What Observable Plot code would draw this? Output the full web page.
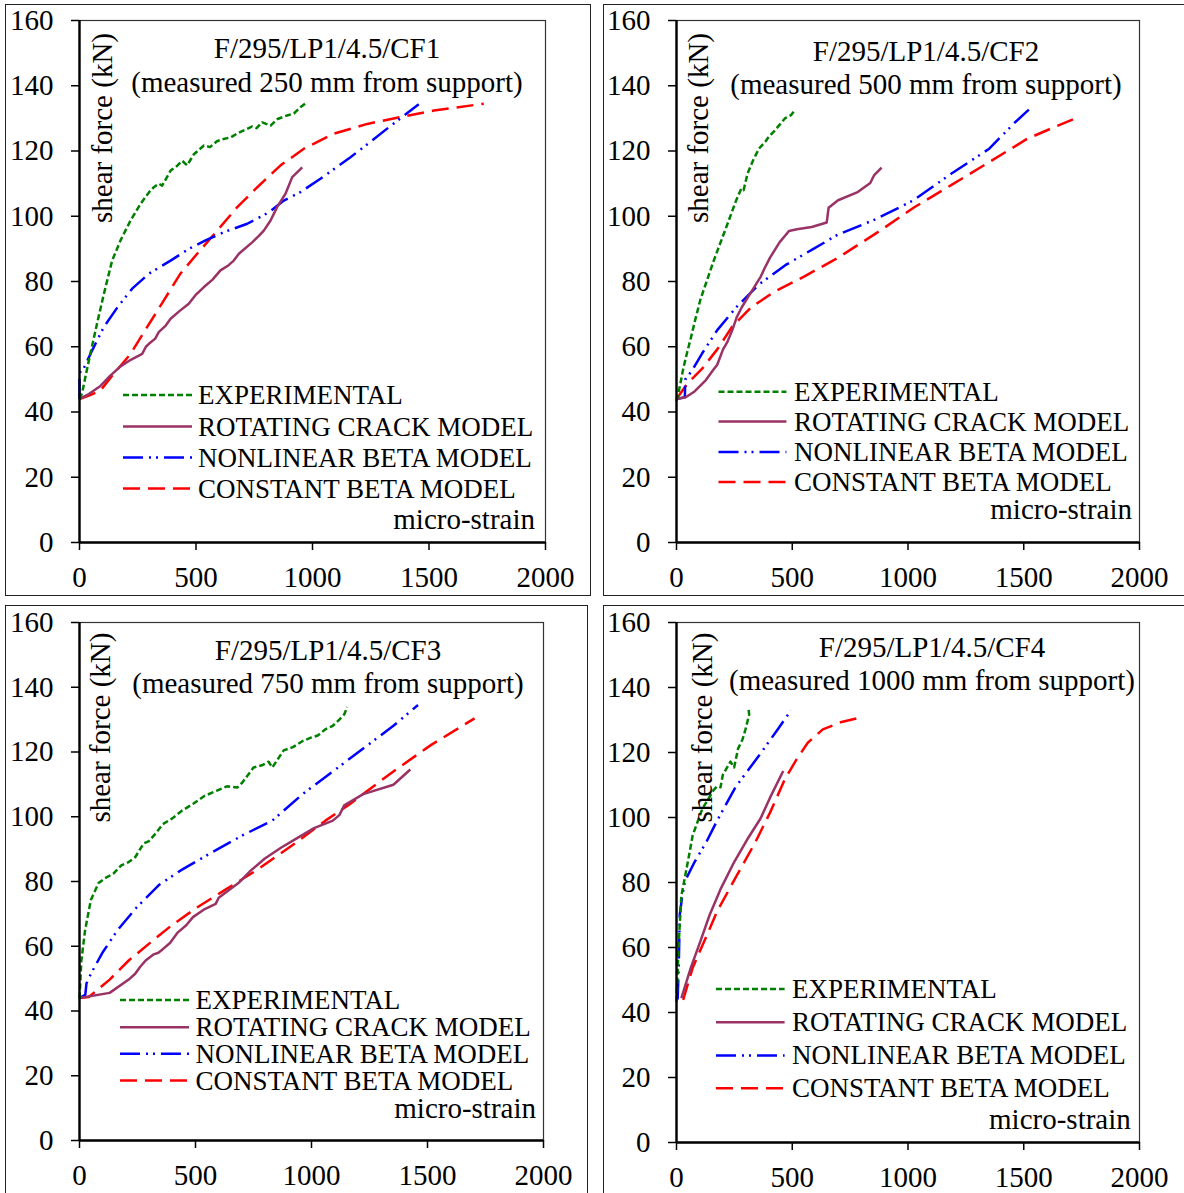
<!DOCTYPE html>
<html><head><meta charset="utf-8">
<script src="https://cdn.jsdelivr.net/npm/d3@7"></script>
<script src="https://cdn.jsdelivr.net/npm/@observablehq/plot@0.6"></script>
<style>
html,body{margin:0;padding:0;background:#fff;width:1184px;height:1193px;overflow:hidden;}
#root{position:relative;width:1184px;height:1193px;}
.border{position:absolute;border:1.5px solid #222;box-sizing:border-box;}
.panel{position:absolute;}
.panel svg{background:transparent;overflow:visible;max-width:none;}
</style></head><body><div id="root"></div>
<script>
// ---------------- DATA ----------------
const xTicks = [0, 500, 1000, 1500, 2000];
const yTicks = [0, 20, 40, 60, 80, 100, 120, 140, 160];
const seriesNames = ["EXPERIMENTAL", "ROTATING CRACK MODEL", "NONLINEAR BETA MODEL", "CONSTANT BETA MODEL"];
const panelTitles = ["F/295/LP1/4.5/CF1", "F/295/LP1/4.5/CF2", "F/295/LP1/4.5/CF3", "F/295/LP1/4.5/CF4"];
const panelSubtitles = ["(measured 250 mm from support)", "(measured 500 mm from support)",
  "(measured 750 mm from support)", "(measured 1000 mm from support)"];
const yLabel = "shear force (kN)";
const xLabel = "micro-strain";

// [micro-strain, shear force kN]
const cf1Experimental = [[0,44],[12,46],[26,51],[47,58],[75,67],[104,76],[140,86.4],[176,92.6],[219,98.7],[262,103.8],[300,107.5],[319,108.9],[340,110],[355,109.4],[391,114],[420,115.5],[441,117],[462,115.6],[491,119],[534,121.7],[560,121.2],[590,123],[619,123.7],[650,124.2],[680,125.5],[705,126.3],[740,127.5],[760,127],[784,128.8],[820,127.8],[850,129.8],[891,130.9],[920,131.5],[948,133.4],[977,135]];
const cf1Rotating = [[0,44],[40,45.5],[90,48],[130,51],[176,54],[220,56],[269,57.8],[285,60],[298,60.9],[325,62.5],[340,64.5],[370,66.5],[391,68.6],[430,71],[469,73.2],[500,76],[534,78.3],[570,80.5],[605,83.4],[640,85],[662,86.4],[684,88.5],[741,92],[770,94],[791,95.6],[820,98.7],[848,102.8],[884,106.9],[913,112],[956,115]];
const cf1Nonlinear = [[0,44],[0,50],[4,52.7],[19,53.5],[47,57.8],[104,66],[162,72],[226,77.8],[298,82.4],[391,86.4],[469,90],[541,92.6],[619,95.1],[720,97.7],[813,101.2],[877,104.8],[948,107.4],[1034,111.5],[1163,118.1],[1256,123.2],[1328,127.3],[1421,132.4],[1456,134.3]];
const cf1Constant = [[0,44],[40,45],[90,46.6],[147,51.7],[219,57.8],[290,66],[362,74.2],[433,82.4],[505,88.5],[591,95.6],[677,102.8],[763,108.9],[863,115.6],[963,120.7],[1091,125.3],[1235,128.3],[1378,130.4],[1521,132.4],[1735,134.5]];

const cf2Experimental = [[0,43.4],[15,48],[29,53.3],[45,58],[62,62.7],[80,68],[103,74.4],[130,80],[160,86.2],[185,91],[209,95.5],[235,100.5],[258,104.9],[280,108.5],[290,108],[307,113.1],[330,117],[356,120.7],[385,123],[400,124.5],[421,126],[445,128],[470,130.1],[495,131],[511,132.5]];
const cf2Rotating = [[0,44],[40,44.5],[78,46.3],[127,49.8],[160,53],[176,54.5],[201,59.2],[220,61.5],[241,65.1],[260,69],[282,72.1],[323,76.8],[364,81.5],[380,84],[404,87.3],[445,92],[486,95.5],[520,96],[584,96.7],[649,98.1],[657,102.6],[698,104.9],[780,107.3],[837,110.2],[853,112.5],[886,114.9]];
const cf2Nonlinear = [[0,44],[36,44.5],[38,50],[65,52.5],[111,58],[176,65.1],[258,72.1],[356,79.1],[470,85],[584,89.7],[698,94.4],[861,99.1],[1024,104.9],[1188,113.1],[1351,120.7],[1464,128.9],[1536,133.6]];
const cf2Constant = [[0,44],[46,48.6],[111,53.3],[176,59.2],[241,66.2],[323,72.1],[421,76.8],[551,81.5],[698,87.3],[878,95.5],[1024,102.6],[1188,109.6],[1351,116.6],[1514,123.7],[1628,127.2],[1726,130.1]];

const cf3Experimental = [[0,43.9],[8,55.6],[24,64.9],[49,74.3],[82,79.5],[110,81],[147,82.5],[180,85],[212,86],[240,87.5],[277,91.8],[300,92.5],[330,95],[359,97.7],[400,99.5],[440,101.8],[490,104],[538,106.4],[590,108],[636,109.4],[680,109],[701,110.5],[750,115.2],[790,116],[815,117],[831,115.2],[880,120.5],[920,121.5],[962,123.4],[1000,124.5],[1027,125.1],[1060,127],[1092,128.1],[1120,130],[1141,131.6],[1154,133.9]];
const cf3Rotating = [[0,44],[130,45.6],[212,49.7],[240,51.5],[260,53.5],[285,55.6],[320,57.5],[340,58],[359,59.1],[390,61],[424,64.3],[460,66.5],[489,69],[540,71.5],[587,73.1],[600,75],[685,79.5],[740,83.5],[799,87.1],[870,90.5],[929,93],[1011,96.5],[1092,98.8],[1120,100.5],[1141,103.5],[1223,107],[1353,109.9],[1426,114.6]];
const cf3Nonlinear = [[0,44],[25,45],[30,48.5],[49,51.5],[98,57.9],[163,64.9],[245,71.9],[342,78.9],[440,83.6],[554,88.3],[701,94.2],[831,98.8],[962,107],[1092,114],[1223,121.1],[1353,128.1],[1459,134.5]];
const cf3Constant = [[0,44],[40,44.3],[130,49.7],[212,55.6],[310,61.4],[391,66.1],[505,71.9],[636,77.8],[766,83.6],[929,91.8],[1060,98.8],[1157,103.5],[1353,114],[1516,122.2],[1703,130.4]];

const cf4Experimental = [[0,43.3],[10,61.9],[21,75.9],[46,85.2],[70,94.5],[111,102.6],[140,106],[160,108.4],[176,109.6],[190,109.3],[200,113.1],[233,117.2],[249,115.4],[266,121.2],[285,124],[298,127.1],[314,131.7],[310,134]];
const cf4Rotating = [[21,44.4],[62,53.8],[103,61.9],[143,70],[192,78.2],[249,86.3],[306,93.3],[363,99.7],[404,106.1],[461,114.3]];
const cf4Nonlinear = [[5,44],[10,55],[14,70],[25,76],[37,80.5],[78,86.3],[127,92.2],[176,99.1],[257,109.6],[355,118.9],[437,127.1],[494,132.9]];
const cf4Constant = [[29,43.9],[70,53.8],[127,63.1],[176,71.2],[257,81.7],[339,92.2],[404,101.5],[469,111.9],[518,117.8],[567,123],[632,127.1],[713,129.4],[787,130.6]];

const panelSeries = [
  [cf1Experimental, cf1Rotating, cf1Nonlinear, cf1Constant],
  [cf2Experimental, cf2Rotating, cf2Nonlinear, cf2Constant],
  [cf3Experimental, cf3Rotating, cf3Nonlinear, cf3Constant],
  [cf4Experimental, cf4Rotating, cf4Nonlinear, cf4Constant]
];

// ---------------- STYLE / LAYOUT ----------------
const FONT = "'Liberation Serif','Times New Roman',Times,serif";
const seriesStyle = [
  {stroke: "#008000", dash: "6,3", width: 2.5},
  {stroke: "#993366", dash: null, width: 2.5},
  {stroke: "#0000ff", dash: "20,6,2,5,2,6", width: 2.5},
  {stroke: "#ff0000", dash: "17,8", width: 2.5}
];
const drawOrder = [3, 2, 1, 0];

const layouts = [
  {left:0, top:0, w:595, h:600, m:[20,50,58,79],
   border:{left:5, top:4, w:586, h:592},
   tx:327, t1:57.5, t2:91.5, yl:[112,33],
   legY:[395,426.5,457.5,488.5], legX:[123,192], legT:198, msX:535, msY:529},
  {left:597, top:0, w:587, h:600, m:[20,45,58,79],
   border:{left:603, top:4, w:600, h:592},
   tx:329, t1:61, t2:94, yl:[111,33],
   legY:[391.7,421.5,452,482], legX:[121.5,189.4], legT:197, msX:535, msY:519},
  {left:0, top:600, w:595, h:593, m:[22,52,53,79],
   border:{left:5, top:605, w:583, h:620},
   tx:328, t1:60, t2:93, yl:[110,32.6],
   legY:[399.9,427.2,453.7,480.5], legX:[120,189], legT:195.5, msX:536, msY:518},
  {left:597, top:600, w:587, h:593, m:[22,45,51,79],
   border:{left:603, top:605, w:620, h:620},
   tx:335, t1:56.5, t2:90, yl:[115,32.6],
   legY:[388.9,422.2,455.4,488.3], legX:[119,187.6], legT:195, msX:533.8, msY:529}
];

const root = document.getElementById("root");

layouts.forEach((L) => {
  const b = document.createElement("div");
  b.className = "border";
  Object.assign(b.style, {left: L.border.left + "px", top: L.border.top + "px", width: L.border.w + "px", height: L.border.h + "px"});
  root.appendChild(b);
});

layouts.forEach((L, i) => {
  const series = panelSeries[i];
  const lineMarks = drawOrder.map(k => Plot.line(series[k], {
    x: d => d[0], y: d => d[1],
    stroke: seriesStyle[k].stroke,
    strokeWidth: seriesStyle[k].width,
    strokeDasharray: seriesStyle[k].dash || undefined,
    strokeLinejoin: "round",
    strokeLinecap: "butt"
  }));
  const svg = Plot.plot({
    width: L.w, height: L.h,
    marginTop: L.m[0], marginRight: L.m[1], marginBottom: L.m[2], marginLeft: L.m[3],
    style: {fontFamily: FONT, fontSize: "29px", color: "#000", background: "transparent", overflow: "visible"},
    x: {domain: [0, 2000]},
    y: {domain: [0, 160]},
    marks: [
      Plot.frame({stroke: "#333", strokeWidth: 1.2}),
      Plot.axisX({ticks: xTicks, tickFormat: d => String(d), tickSize: 8, tickPadding: 16, label: null, strokeWidth: 1.5, fontSize: 29}),
      Plot.axisY({ticks: yTicks, tickFormat: d => String(d), tickSize: 8, tickPadding: 18, label: null, strokeWidth: 1.5, fontSize: 29}),
      ...lineMarks,
      Plot.ruleX([0], {stroke: "#000", strokeWidth: 2.4}),
      Plot.ruleY([0], {stroke: "#000", strokeWidth: 2.4})
    ]
  });
  const s = d3.select(svg);
  const g = s.append("g").attr("font-family", FONT).attr("fill", "#000").attr("text-anchor", "start");
  g.append("text").attr("x", L.tx).attr("y", L.t1).attr("text-anchor", "middle")
    .attr("font-size", 29).text(panelTitles[i]);
  g.append("text").attr("x", L.tx).attr("y", L.t2).attr("text-anchor", "middle")
    .attr("font-size", 29).text(panelSubtitles[i]);
  g.append("text").attr("transform", `translate(${L.yl[0]},${L.yl[1]}) rotate(-90)`)
    .attr("text-anchor", "end").attr("font-size", 29).text(yLabel);
  seriesNames.forEach((name, k) => {
    const y = L.legY[k];
    const ln = g.append("line").attr("x1", L.legX[0]).attr("x2", L.legX[1]).attr("y1", y).attr("y2", y)
      .attr("stroke", seriesStyle[k].stroke).attr("stroke-width", seriesStyle[k].width);
    if (seriesStyle[k].dash) ln.attr("stroke-dasharray", seriesStyle[k].dash);
    g.append("text").attr("x", L.legT).attr("y", y + 9).attr("text-anchor", "start")
      .attr("font-size", 27).text(name);
  });
  g.append("text").attr("x", L.msX).attr("y", L.msY).attr("text-anchor", "end")
    .attr("font-size", 29).text(xLabel);

  const wrap = document.createElement("div");
  wrap.className = "panel";
  Object.assign(wrap.style, {left: L.left + "px", top: L.top + "px", width: L.w + "px", height: L.h + "px"});
  wrap.appendChild(svg);
  root.appendChild(wrap);
});
</script>
</body></html>
